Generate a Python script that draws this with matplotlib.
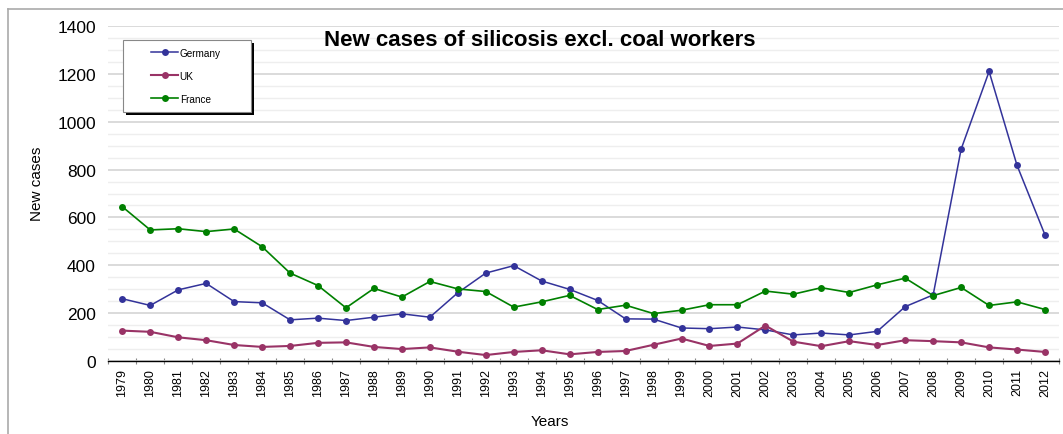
import matplotlib
matplotlib.use("Agg")
import matplotlib.pyplot as plt
from matplotlib.patches import Rectangle
from matplotlib.ticker import MultipleLocator, FixedLocator
import numpy as np

years = [str(y) for y in range(1979, 2013)]
germany = [261, 233, 298, 325, 249, 244, 173, 180, 170, 184, 198, 184,
           286, 368, 399, 335, 300, 254, 177, 176, 139, 136, 143, 131,
           110, 118, 110, 125, 228, 277, 885, 1209, 817, 527]
uk = [128, 123, 100, 88, 68, 60, 64, 77, 79, 60, 51, 58,
      40, 26, 39, 46, 29, 39, 43, 69, 95, 64, 74, 149,
      82, 63, 84, 68, 88, 84, 79, 58, 49, 39]
france = [645, 548, 553, 541, 552, 478, 368, 316, 223, 304, 268, 333,
          302, 291, 226, 248, 275, 216, 234, 199, 213, 236, 236, 293,
          280, 307, 287, 319, 347, 274, 308, 233, 248, 216]

series_names = ["Germany", "UK", "France"]
series_vals = [germany, uk, france]
colors = ["#33339a", "#993366", "#008000"]
lws = [1.1, 1.5, 1.2]

plt.rcParams['font.family'] = ['Liberation Sans', 'DejaVu Sans']

W, H = 1063, 435
fig = plt.figure(figsize=(W / 100, H / 100), dpi=100)

def fx(px):
    return px / W

def fy(py):
    return 1 - py / H

ax_left, ax_right, ax_top, ax_bot = 108.3, 1059, 26.7, 362.3
ax = fig.add_axes([fx(ax_left), fy(ax_bot), fx(ax_right - ax_left), (ax_bot - ax_top) / H])

x = np.arange(len(years))
handles = []
for name, vals, c, lw in zip(series_names, series_vals, colors, lws):
    h, = ax.plot(x, vals, color=c, lw=lw, marker='o', markersize=5,
                 markeredgewidth=0, label=name, zorder=3)
    handles.append(h)

ax.set_xlim(-0.5, len(years) - 0.5)
ax.set_ylim(0, 1400)
ax.yaxis.set_major_locator(MultipleLocator(200))
ax.yaxis.set_minor_locator(MultipleLocator(50))
ax.grid(True, which='major', axis='y', color='#d8d8d8', lw=1.3, zorder=0)
ax.grid(True, which='minor', axis='y', color='#eeeeee', lw=1.0, zorder=0)
ax.set_axisbelow(True)

ax.set_xticks(x)
ax.set_xticklabels(years, rotation=90, fontsize=9)
ax.xaxis.set_minor_locator(FixedLocator(np.arange(-0.5, len(years), 1.0)))
ax.tick_params(axis='x', which='major', length=0, pad=5)
ax.tick_params(axis='x', which='minor', length=5, direction='inout', color='#888888', width=0.8)
ax.tick_params(axis='y', which='both', length=0, pad=9, labelsize=12.5)

for s in ['left', 'right', 'top']:
    ax.spines[s].set_visible(False)
ax.spines['bottom'].set_color('black')
ax.spines['bottom'].set_linewidth(1.0)
ax.spines['bottom'].set_zorder(4)

# figure frame (top and left border)
fig.add_artist(plt.Line2D([fx(8), fx(8)], [fy(10), 0], transform=fig.transFigure, color='#aaaaaa', lw=1.2))
fig.add_artist(plt.Line2D([fx(8), 1], [fy(10), fy(10)], transform=fig.transFigure, color='#aaaaaa', lw=1.2))

fig.text(fx(540), fy(40), "New cases of silicosis excl. coal workers", ha='center', va='center',
         fontsize=16, fontweight='bold')
fig.text(fx(37), fy(184), "New cases", rotation=90, ha='center', va='center', fontsize=11)
fig.text(fx(550), fy(422), "Years", ha='center', va='center', fontsize=11)

# legend box with shadow
bx0, by0, bx1, by1 = 123.3, 40.7, 250.7, 112.7
fig.add_artist(Rectangle((fx(bx0 + 3), fy(by1 + 3)), fx(bx1 - bx0), (by1 - by0) / H,
                         transform=fig.transFigure, facecolor='black', edgecolor='none', zorder=5))
fig.add_artist(Rectangle((fx(bx0), fy(by1)), fx(bx1 - bx0), (by1 - by0) / H,
                         transform=fig.transFigure, facecolor='white', edgecolor='#888888', lw=0.8, zorder=6))
leg = ax.legend(handles=handles, loc='center', bbox_to_anchor=(fx((bx0 + bx1) / 2 - 1), fy((by0 + by1) / 2)),
                bbox_transform=fig.transFigure, frameon=False, fontsize=7.2,
                handlelength=2.7, handletextpad=0.15, labelspacing=1.3, borderpad=0.3)
leg.set_zorder(7)
leg.remove()
fig.add_artist(leg)

fig.savefig("out.png", dpi=100)
